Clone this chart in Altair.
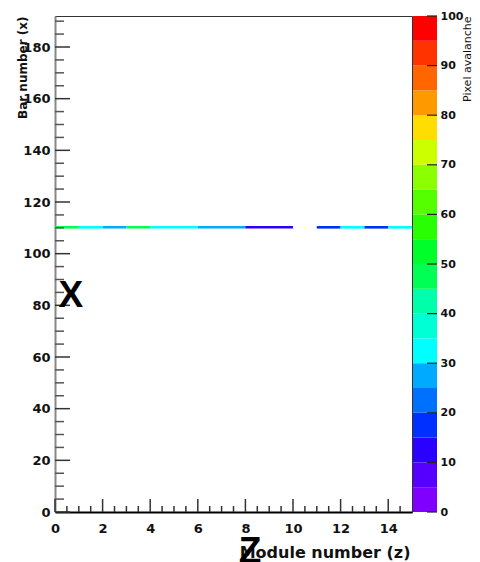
import altair as alt
import pandas as pd

# --- data ---
z_lo = [0, 1, 2, 3, 4, 6, 8, 11, 12, 13, 14]
z_hi = [1, 2, 3, 4, 6, 8, 10, 12, 13, 14, 15]
avalanche = [46, 32, 27, 46, 33, 26, 13, 17, 33, 17, 32]
bar_row_lo = 109.7
bar_row_hi = 110.7

x_labels = [0, 2, 4, 6, 8, 10, 12, 14]
y_labels = [0, 20, 40, 60, 80, 100, 120, 140, 160, 180]
x_minor = [v * 0.5 for v in range(1, 30) if v % 4 != 0]
y_minor = [v for v in range(5, 192, 5) if v % 20 != 0]
c_labels = [0, 10, 20, 30, 40, 50, 60, 70, 80, 90, 100]

palette = ["#7f00ff", "#5500ff", "#2a00ff", "#0030ff", "#0070ff",
           "#00aaff", "#00ffff", "#00ffd5", "#00ffaa", "#00ff55",
           "#00ff2a", "#2aff00", "#55ff00", "#8cff00", "#ccff00",
           "#ffdd00", "#ff9900", "#ff6600", "#ff3300", "#ff0000"]
c_lo = [i * 5 for i in range(20)]

ann_text = ["X", "Z"]
ann_z = [0.67, 8.19]
ann_y = [79.4, -19.6]

W, H = 357, 496
FONT = "DejaVu Sans"

cells = pd.DataFrame({"z0": z_lo, "z1": z_hi, "v": avalanche,
                      "y0": [bar_row_lo] * len(z_lo), "y1": [bar_row_hi] * len(z_lo)})
color_scale = alt.Scale(type="quantize", domain=[0, 100], range=palette)

xs = alt.Scale(domain=[0, 15], nice=False, zero=False)
ys = alt.Scale(domain=[0, 192], nice=False, zero=False)
cs = alt.Scale(domain=[0, 100], nice=False, zero=False)

xaxis = alt.Axis(values=x_labels, ticks=False, grid=False, domain=True,
                 domainColor="black", domainWidth=2, labelFont=FONT,
                 labelFontWeight="bold", labelFontSize=13, labelColor="#111",
                 labelPadding=10, labelFlush=False,
                 title="Module number (z)", titleFont=FONT, titleFontSize=16,
                 titleFontWeight="bold", titleColor="#111",
                 titleX=W - 2, titleY=40, titleAlign="right", titleBaseline="middle",
                 titleAnchor="end")
yaxis = alt.Axis(values=y_labels, ticks=False, grid=False, domain=True,
                 domainColor="#888", domainWidth=2, labelFont=FONT,
                 labelFontWeight="bold", labelFontSize=13, labelColor="#111",
                 labelPadding=5, labelFlush=False,
                 title="Bar number (x)", titleFont=FONT, titleFontSize=12,
                 titleFontWeight="bold", titleColor="#111",
                 titleX=-33, titleY=0, titleAngle=270, titleAlign="right",
                 titleBaseline="middle", titleAnchor="end")
caxis = alt.Axis(orient="right", offset=25, values=c_labels, ticks=False, grid=False,
                 domain=False, labelFont=FONT, labelFontWeight="bold", labelFontSize=11,
                 labelColor="#111", labelPadding=3, labelFlush=False,
                 title="Pixel avalanche", titleFont=FONT, titleFontSize=11,
                 titleFontWeight="normal", titleColor="#111",
                 titleX=30, titleY=0, titleAngle=270, titleAlign="right",
                 titleBaseline="middle", titleAnchor="end")

heat = alt.Chart(cells).mark_rect().encode(
    x=alt.X("z0:Q", scale=xs, axis=xaxis),
    x2="z1:Q",
    y=alt.Y("y0:Q", scale=ys, axis=yaxis),
    y2="y1:Q",
    color=alt.Color("v:Q", scale=color_scale, legend=None),
)

ymaj = alt.Chart(pd.DataFrame({"y": y_labels})).mark_rule(color="#333", strokeWidth=1.5).encode(
    y=alt.Y("y:Q", scale=ys), x=alt.value(0), x2=alt.value(15))
ymin = alt.Chart(pd.DataFrame({"y": y_minor})).mark_rule(color="#555", strokeWidth=1.5).encode(
    y=alt.Y("y:Q", scale=ys), x=alt.value(0), x2=alt.value(9))
xmaj = alt.Chart(pd.DataFrame({"x": x_labels})).mark_rule(color="#333", strokeWidth=1.5).encode(
    x=alt.X("x:Q", scale=xs), y=alt.value(H), y2=alt.value(H - 13))
xmin = alt.Chart(pd.DataFrame({"x": x_minor})).mark_rule(color="#333", strokeWidth=1.5).encode(
    x=alt.X("x:Q", scale=xs), y=alt.value(H), y2=alt.value(H - 6))

ann = alt.Chart(pd.DataFrame({"t": ann_text, "z": ann_z, "y": ann_y})).mark_text(
    font="Liberation Sans", fontWeight="bold", fontSize=37, color="black",
    align="center", baseline="alphabetic").encode(
    x=alt.X("z:Q", scale=xs), y=alt.Y("y:Q", scale=ys), text="t:N")

main = alt.layer(heat, ymin, ymaj, xmin, xmaj, ann)

cbar_df = pd.DataFrame({"lo": c_lo, "hi": [v + 5 for v in c_lo], "mid": [v + 2.5 for v in c_lo]})
cbar = alt.Chart(cbar_df).mark_rect().encode(
    y=alt.Y("lo:Q", scale=cs, axis=caxis), y2="hi:Q",
    x=alt.value(W + 1), x2=alt.value(W + 25),
    color=alt.Color("mid:Q", scale=color_scale, legend=None),
)
cticks = alt.Chart(pd.DataFrame({"c": c_labels})).mark_rule(color="#222", strokeWidth=1.2).encode(
    y=alt.Y("c:Q", scale=cs), x=alt.value(W + 15), x2=alt.value(W + 25))
cb = alt.layer(cbar, cticks)

chart = alt.layer(main, cb).resolve_scale(y="independent", color="shared").properties(
    width=W, height=H,
    autosize=alt.AutoSizeParams(type="none"),
    padding={"left": 47, "top": 8, "right": 60, "bottom": 56},
    background="white",
    view=alt.ViewBackground(stroke="#333", strokeWidth=1),
)

chart.save("out.html", embed_options={"renderer": "svg", "actions": False})
